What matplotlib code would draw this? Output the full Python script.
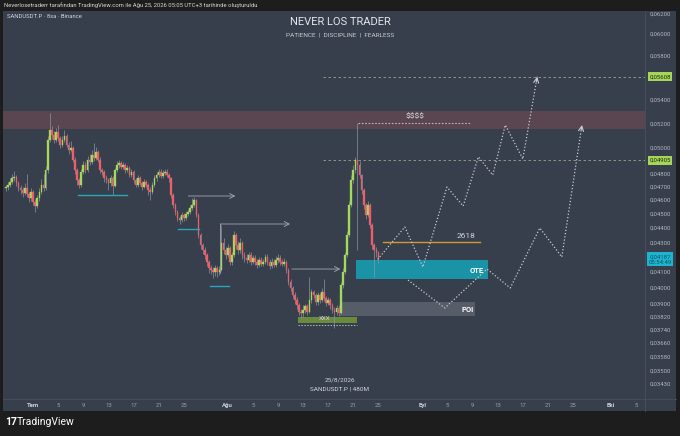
import matplotlib.pyplot as plt
import matplotlib.dates as mdates
import matplotlib.transforms as mtransforms
from matplotlib.patches import Rectangle
from matplotlib.ticker import NullLocator
import numpy as np
import pandas as pd

plt.rcParams['font.family'] = ['Roboto', 'DejaVu Sans']

# SANDUSDT.P, 8h candles starting 2026-06-26 16:00
first_open = 0.04690
closes = [0.04700,
          0.04716, 0.04739, 0.04769,  # Jun 27
          0.04777, 0.04731, 0.04693,
          0.04678, 0.04656, 0.04693,
          0.04648, 0.04619, 0.04663,
          0.04589, 0.04560, 0.04619,  # Jul 1
          0.04663, 0.04716, 0.04693,
          0.04830, 0.05070, 0.05150,
          0.05110, 0.05070, 0.05134,
          0.05085, 0.05030, 0.05070,
          0.05101, 0.05030, 0.04990,
          0.05004, 0.04910, 0.04830,
          0.04754, 0.04716, 0.04815,
          0.04870, 0.04830, 0.04910,
          0.04894, 0.04950, 0.04925,
          0.04972, 0.04910, 0.04830,  # Jul 11
          0.04815, 0.04769, 0.04754,
          0.04731, 0.04769, 0.04708,
          0.04830, 0.04870, 0.04886,
          0.04855, 0.04870, 0.04830,
          0.04847, 0.04790, 0.04815,
          0.04754, 0.04716, 0.04769,
          0.04731, 0.04701, 0.04739,
          0.04716, 0.04678, 0.04663,
          0.04716, 0.04769, 0.04790,
          0.04815, 0.04784, 0.04807,  # Jul 21
          0.04815, 0.04790, 0.04769,
          0.04641, 0.04567, 0.04517,
          0.04474, 0.04459, 0.04495,
          0.04474, 0.04502, 0.04517,
          0.04545, 0.04567, 0.04604,
          0.04495, 0.04353, 0.04285,
          0.04250, 0.04217, 0.04170,
          0.04130, 0.04116, 0.04103,
          0.04130, 0.04103, 0.04116,
          0.04298, 0.04250, 0.04217,  # Jul 31
          0.04264, 0.04170, 0.04217,
          0.04353, 0.04285, 0.04250,
          0.04298, 0.04217, 0.04197,
          0.04183, 0.04217, 0.04170,
          0.04197, 0.04170, 0.04150,
          0.04183, 0.04157, 0.04170,
          0.04203, 0.04170, 0.04143,
          0.04170, 0.04150, 0.04183,
          0.04197, 0.04170, 0.04157,
          0.04170, 0.04116, 0.04038,  # Aug 10
          0.04000, 0.03956, 0.03923,
          0.03892, 0.03849, 0.03843,
          0.03861, 0.03886, 0.03849,
          0.03923, 0.03975, 0.03956,
          0.03911, 0.03956, 0.03923,
          0.03975, 0.03936, 0.03905,
          0.03923, 0.03892, 0.03861,
          0.03849, 0.03874, 0.03843,
          0.04019, 0.04103, 0.04217,
          0.04353, 0.04567, 0.04754,  # Aug 20
          0.04830, 0.04905, 0.04870,
          0.04790, 0.04678, 0.04567,
          0.04495, 0.04567, 0.04424,
          0.04285, 0.04250, 0.04237,
          0.04187]
highs = [0.04720,
         0.04740, 0.04770, 0.04800,
         0.04820, 0.04790, 0.04745,
         0.04720, 0.04700, 0.04730,
         0.04800, 0.04665, 0.04690,
         0.04680, 0.04610, 0.04640,
         0.04690, 0.04760, 0.04800,
         0.04860, 0.05100, 0.05292,
         0.05180, 0.05140, 0.05170,
         0.05190, 0.05100, 0.05100,
         0.05150, 0.05120, 0.05050,
         0.05060, 0.05020, 0.04930,
         0.04850, 0.04770, 0.04840,
         0.04900, 0.04890, 0.04940,
         0.04960, 0.04990, 0.05040,
         0.05010, 0.04990, 0.04930,
         0.04850, 0.04830, 0.04790,
         0.04770, 0.04790, 0.04785,
         0.04850, 0.04900, 0.04910,
         0.04900, 0.04890, 0.04885,
         0.04870, 0.04860, 0.04835,
         0.04830, 0.04770, 0.04790,
         0.04785, 0.04750, 0.04760,
         0.04755, 0.04730, 0.04700,
         0.04740, 0.04790, 0.04815,
         0.04835, 0.04840, 0.04830,
         0.04840, 0.04835, 0.04810,
         0.04780, 0.04660, 0.04580,
         0.04530, 0.04490, 0.04515,
         0.04510, 0.04525, 0.04540,
         0.04565, 0.04619, 0.04625,
         0.04615, 0.04510, 0.04370,
         0.04300, 0.04270, 0.04230,
         0.04185, 0.04150, 0.04135,
         0.04150, 0.04145, 0.04140,
         0.04424, 0.04330, 0.04270,
         0.04290, 0.04280, 0.04240,
         0.04380, 0.04370, 0.04310,
         0.04330, 0.04310, 0.04240,
         0.04225, 0.04240, 0.04235,
         0.04215, 0.04215, 0.04190,
         0.04205, 0.04200, 0.04190,
         0.04225, 0.04220, 0.04190,
         0.04195, 0.04190, 0.04210,
         0.04220, 0.04215, 0.04190,
         0.04195, 0.04185, 0.04130,
         0.04055, 0.04015, 0.03975,
         0.03940, 0.03905, 0.03870,
         0.03890, 0.03900, 0.03900,
         0.04070, 0.03995, 0.03990,
         0.03970, 0.03975, 0.03970,
         0.04000, 0.04060, 0.03950,
         0.03945, 0.03935, 0.03905,
         0.03880, 0.03895, 0.03890,
         0.04040, 0.04130, 0.04240,
         0.04380, 0.04600, 0.04790,
         0.04870, 0.04930, 0.05208,
         0.04900, 0.04800, 0.04690,
         0.04580, 0.04600, 0.04580,
         0.04440, 0.04300, 0.04270,
         0.04245]
lows = [0.04670,
        0.04680, 0.04700, 0.04725,
        0.04750, 0.04710, 0.04670,
        0.04650, 0.04630, 0.04640,
        0.04630, 0.04590, 0.04600,
        0.04570, 0.04517, 0.04545,
        0.04600, 0.04650, 0.04670,
        0.04680, 0.04810, 0.05050,
        0.05080, 0.05040, 0.05050,
        0.05060, 0.05000, 0.05010,
        0.05050, 0.05010, 0.04960,
        0.04970, 0.04890, 0.04800,
        0.04720, 0.04690, 0.04700,
        0.04800, 0.04810, 0.04815,
        0.04870, 0.04880, 0.04900,
        0.04910, 0.04890, 0.04810,
        0.04790, 0.04740, 0.04730,
        0.04680, 0.04710, 0.04640,
        0.04700, 0.04815, 0.04850,
        0.04835, 0.04840, 0.04810,
        0.04815, 0.04775, 0.04775,
        0.04735, 0.04700, 0.04700,
        0.04715, 0.04680, 0.04690,
        0.04700, 0.04640, 0.04604,
        0.04650, 0.04700, 0.04750,
        0.04775, 0.04770, 0.04770,
        0.04790, 0.04775, 0.04740,
        0.04620, 0.04545, 0.04495,
        0.04455, 0.04430, 0.04445,
        0.04455, 0.04460, 0.04490,
        0.04505, 0.04530, 0.04555,
        0.04480, 0.04330, 0.04260,
        0.04220, 0.04190, 0.04140,
        0.04100, 0.04090, 0.04064,
        0.04080, 0.04070, 0.04085,
        0.04110, 0.04220, 0.04190,
        0.04200, 0.04150, 0.04150,
        0.04200, 0.04260, 0.04220,
        0.04230, 0.04190, 0.04170,
        0.04160, 0.04170, 0.04150,
        0.04155, 0.04150, 0.04130,
        0.04135, 0.04140, 0.04140,
        0.04155, 0.04150, 0.04125,
        0.04130, 0.04135, 0.04135,
        0.04165, 0.04150, 0.04140,
        0.04140, 0.04100, 0.04020,
        0.03980, 0.03935, 0.03900,
        0.03870, 0.03830, 0.03815,
        0.03820, 0.03845, 0.03830,
        0.03840, 0.03905, 0.03935,
        0.03890, 0.03895, 0.03905,
        0.03910, 0.03920, 0.03885,
        0.03890, 0.03870, 0.03840,
        0.03752, 0.03830, 0.03825,
        0.03835, 0.04000, 0.04090,
        0.04200, 0.04340, 0.04550,
        0.04730, 0.04810, 0.04250,
        0.04770, 0.04650, 0.04540,
        0.04470, 0.04480, 0.04400,
        0.04260, 0.04070, 0.04200,
        0.04165]

# price scale labels
price_ticks = [0.06200, 0.06000, 0.05800, 0.05400, 0.05200, 0.05000, 0.04800,
               0.04700, 0.04600, 0.04500, 0.04400, 0.04300, 0.04100, 0.04000,
               0.03900, 0.03820, 0.03740, 0.03660, 0.03580, 0.03500, 0.03430]
level_marks = [0.05608, 0.04905]
last_price = 0.04187

# time scale labels
time_ticks = ['2026-07-01', '2026-07-05', '2026-07-09', '2026-07-13', '2026-07-17',
              '2026-07-21', '2026-07-25', '2026-08-01', '2026-08-05', '2026-08-09',
              '2026-08-13', '2026-08-17', '2026-08-21', '2026-08-25', '2026-09-01',
              '2026-09-05', '2026-09-09', '2026-09-13', '2026-09-17', '2026-09-21',
              '2026-09-25', '2026-10-01', '2026-10-05']
time_labels = ['Tem', '5', '9', '13', '17', '21', '25', 'Ağu', '5', '9', '13', '17',
               '21', '25', 'Eyl', '5', '9', '13', '17', '21', '25', 'Eki', '5']

# drawings
path_up = [('2026-08-24 21:00', 0.04187), ('2026-08-29 05:00', 0.04410),
           ('2026-09-01 02:00', 0.04136), ('2026-09-04 22:00', 0.04701),
           ('2026-09-07 12:00', 0.04560), ('2026-09-09 22:00', 0.04933),
           ('2026-09-12 05:00', 0.04792), ('2026-09-14 05:00', 0.05191),
           ('2026-09-17 00:00', 0.04917), ('2026-09-19 07:00', 0.05608)]
path_low = [('2026-08-29 17:00', 0.04051), ('2026-09-04 14:00', 0.03874),
            ('2026-09-11 07:00', 0.04123), ('2026-09-15 00:00', 0.04000),
            ('2026-09-19 17:00', 0.04403), ('2026-09-23 05:00', 0.04203),
            ('2026-09-26 10:00', 0.05191)]
liq_zone = (0.05158, 0.05309)
ote_box = ('2026-08-21 10:00', '2026-09-11 12:00', 0.04057, 0.04183)
poi_box = ('2026-08-18 22:00', '2026-09-09 10:00', 0.03824, 0.03911)
xxx_box = ('2026-08-12 05:00', '2026-08-21 14:00', 0.03782, 0.03818)
fib_line = ('2026-08-25 17:00', '2026-09-10 05:00', 0.04305)
top_line = ('2026-08-21 18:00', '2026-09-08 14:00', 0.05208)
dash_start = '2026-08-16 05:00'
lows_marks = [('2026-07-08 05:00', '2026-07-16 00:00', 0.04640),
              ('2026-07-24 02:00', '2026-07-27 10:00', 0.04396),
              ('2026-07-29 05:00', '2026-08-01 05:00', 0.04012)]
gray_arrows = [('2026-07-25 17:00', '2026-08-02 05:00', 0.04634, None),
               ('2026-07-30 19:00', '2026-08-10 22:00', 0.04431, 0.04100),
               ('2026-08-11 05:00', '2026-08-18 22:00', 0.04123, None)]

BG_OUT = '#1d1d1d'
BG = '#363f4b'
SEP = '#454e5a'
UP = '#a6d85a'
DOWN = '#ea5f6b'
WICK = '#8d939d'
TXT = '#b2b5be'


def dn(s):
    return mdates.date2num(pd.Timestamp(s))


def arrow_head(ax, p0, p1, color):
    a = ax.transData.transform(p0)
    b = ax.transData.transform(p1)
    v = (b - a) / np.hypot(*(b - a))
    ax.annotate('', xy=p1, xytext=(-v[0] * 5, -v[1] * 5), textcoords='offset pixels',
                arrowprops=dict(arrowstyle='->,head_length=0.35,head_width=0.18',
                                color=color, lw=0.8, shrinkA=0, shrinkB=0))


def main():
    fig = plt.figure(figsize=(6.8, 4.36), dpi=100)
    fig.patch.set_facecolor(BG_OUT)
    fig.patches.append(Rectangle((3 / 680, 25 / 436), 673 / 680, 400 / 436,
                                 transform=fig.transFigure, fc=BG, ec='none', zorder=-5))
    # separators of price and time scales
    fig.add_artist(plt.Line2D([645 / 680, 645 / 680], [25 / 436, 425 / 436],
                              transform=fig.transFigure, color=SEP, lw=0.7, zorder=-4))
    fig.add_artist(plt.Line2D([3 / 680, 676 / 680], [37 / 436, 37 / 436],
                              transform=fig.transFigure, color=SEP, lw=0.7, zorder=-4))

    ax = fig.add_axes([3 / 680, 37 / 436, 642 / 680, 388 / 436])
    ax.set_facecolor(BG)
    ax.set_yscale('log')
    ax.set_ylim(0.03349, 0.0623)
    ax.set_xlim(dn('2026-06-26 05:00'), dn('2026-10-06 11:00'))
    for s in ax.spines.values():
        s.set_visible(False)
    ax.set_xticks([])
    ax.set_yticks([])
    ax.yaxis.set_minor_locator(NullLocator())

    # candles
    t = mdates.date2num(pd.date_range('2026-06-26 16:00', periods=len(closes), freq='8h'))
    c = np.array(closes)
    o = np.array([first_open] + closes[:-1])
    h = np.array(highs)
    l = np.array(lows)
    cols = [UP if cc >= oo else DOWN for oo, cc in zip(o, c)]
    ax.vlines(t, l, h, color=WICK, lw=0.5, zorder=3)
    ax.bar(t, np.abs(c - o), bottom=np.minimum(o, c), width=0.26, color=cols,
           edgecolor=cols, lw=0.25, zorder=4)

    # liquidity zone
    ax.axhspan(*liq_zone, color='#5a4651', lw=0, zorder=1)
    ax.plot([dn(top_line[0]), dn(top_line[1])], [top_line[2]] * 2, color='#b5b8c0',
            lw=0.8, ls=(0, (1.5, 1.5)), zorder=5)
    ax.text(dn('2026-08-30 19:00'), 0.05266, r'\$\$\$\$', color='#dcdde2', fontsize=6,
            ha='center', va='center', zorder=6)

    # dashed levels
    for lv in level_marks:
        ax.plot([dn(dash_start), ax.get_xlim()[1]], [lv, lv], color='#9aa38e', lw=0.6,
                ls=(0, (3, 3)), zorder=2)

    # boxes
    x0, x1, lo, hi = ote_box
    ax.fill_between([dn(x0), dn(x1)], lo, hi, color='#1b93a7', lw=0, zorder=2)
    ax.text(dn('2026-09-10 20:00'), 0.04116, 'OTE', color='white', fontsize=5.5,
            fontweight='bold', ha='right', va='center', zorder=6)
    x0, x1, lo, hi = poi_box
    ax.fill_between([dn(x0), dn(x1)], lo, hi, color='#575d68', lw=0, zorder=2)
    ax.text(dn('2026-09-09 04:00'), 0.03866, 'POI', color='white', fontsize=5.5,
            fontweight='bold', ha='right', va='center', zorder=6)
    x0, x1, lo, hi = xxx_box
    ax.fill_between([dn(x0), dn(x1)], lo, hi, color='#6a8a3e', lw=0, zorder=2)
    ax.plot([dn(x0), dn(x1)], [0.03770, 0.03770], color='#b5b8c0', lw=0.7,
            ls=(0, (1.5, 1.5)), zorder=5)
    ax.text(dn('2026-08-16 12:00'), 0.03812, 'XXX', color='#d0d3da', fontsize=4.5,
            ha='center', va='center', zorder=6)

    # 2618 level
    x0, x1, lv = fib_line
    ax.plot([dn(x0), dn(x1)], [lv, lv], color='#d39a32', lw=1.0, zorder=5)
    ax.text(dn('2026-09-09 12:00'), 0.04347, '2618', color='#d1d4dc', fontsize=6,
            ha='right', va='center', zorder=6)

    # swing low marks
    for x0, x1, lv in lows_marks:
        ax.plot([dn(x0), dn(x1)], [lv, lv], color='#27a6bd', lw=1.0, zorder=5)

    # gray arrows
    for x0, x1, lv, drop in gray_arrows:
        ax.annotate('', xy=(dn(x1), lv), xytext=(dn(x0), lv),
                    arrowprops=dict(arrowstyle='->,head_length=0.35,head_width=0.18',
                                    color='#a3a8b1', lw=0.6, shrinkA=0, shrinkB=0),
                    zorder=5)
        if drop is not None:
            ax.plot([dn(x0), dn(x0)], [lv, drop], color='#a3a8b1', lw=0.6, zorder=5)

    # projected paths
    for path in (path_up, path_low):
        px = [dn(p[0]) for p in path]
        py = [p[1] for p in path]
        ax.plot(px, py, color='#c9ccd3', lw=0.9, ls=(0, (1, 1.6)), zorder=5)
        arrow_head(ax, (px[-2], py[-2]), (px[-1], py[-1]), '#c9ccd3')

    # price scale
    tr = mtransforms.blended_transform_factory(ax.transAxes, ax.transData)
    xl = (660 - 3) / 642
    for p in price_ticks:
        ax.text(xl, p, f'{p:.5f}'.replace('.', ','), transform=tr, color=TXT,
                fontsize=4.3, ha='center', va='center', clip_on=False)
    for lv in level_marks:
        ax.text(xl, lv, f'{lv:.5f}'.replace('.', ','), transform=tr, color='#1f2a12',
                fontsize=4.3, ha='center', va='center', clip_on=False,
                bbox=dict(boxstyle='square,pad=0.3', fc='#a5d65a', ec='none'))
    ax.text(xl, last_price, f'{last_price:.5f}'.replace('.', ',') + '\n05:54:49',
            transform=tr, color='#0d5563', fontsize=4.3, ha='center', va='center',
            linespacing=1.1, clip_on=False,
            bbox=dict(boxstyle='square,pad=0.3', fc='#1fb3cf', ec='none'))

    # time scale
    trx = mtransforms.blended_transform_factory(ax.transData, ax.transAxes)
    for d, lab in zip(time_ticks, time_labels):
        month = not lab.isdigit()
        ax.text(dn(d), -0.0155, lab, transform=trx, fontsize=4.3, ha='center',
                va='center', clip_on=False,
                color='#d1d4dc' if month else '#9a9ea7',
                fontweight='bold' if month else 'normal')

    # header and footer texts
    fig.text(4 / 680, 1 - 5.5 / 436,
             'Neverlosetraderr tarafından TradingView.com ile Ağu 25, 2026 05:05 UTC+3 '
             'tarihinde oluşturuldu', color='#d8d8d8', fontsize=4.2, va='center')
    fig.text(7 / 680, 1 - 17 / 436, 'SANDUSDT.P · 8sa · Binance', color='#d1d4dc',
             fontsize=4.2, va='center')
    fig.text(340 / 680, 1 - 22 / 436, 'NEVER LOS TRADER', color='#e3e5ea', fontsize=8,
             ha='center', va='center')
    fig.text(340 / 680, 1 - 35 / 436, 'PATIENCE  |  DISCIPLINE  |  FEARLESS',
             color='#c9ccd3', fontsize=4.6, ha='center', va='center')
    fig.text(340 / 680, 1 - 380 / 436, '25/8/2026', color='#d1d4dc', fontsize=4.6,
             ha='center', va='center')
    fig.text(340 / 680, 1 - 389 / 436, 'SANDUSDT.P | 480M', color='#d1d4dc',
             fontsize=4.6, ha='center', va='center')
    fig.text(5 / 680, 1 - 422 / 436, '17', color='white', fontsize=7.5,
             fontweight='bold', va='center')
    fig.text(17 / 680, 1 - 422 / 436, 'TradingView', color='white', fontsize=7.5,
             va='center')

    fig.savefig('out.png', dpi=100, facecolor=fig.get_facecolor())


if __name__ == '__main__':
    main()
